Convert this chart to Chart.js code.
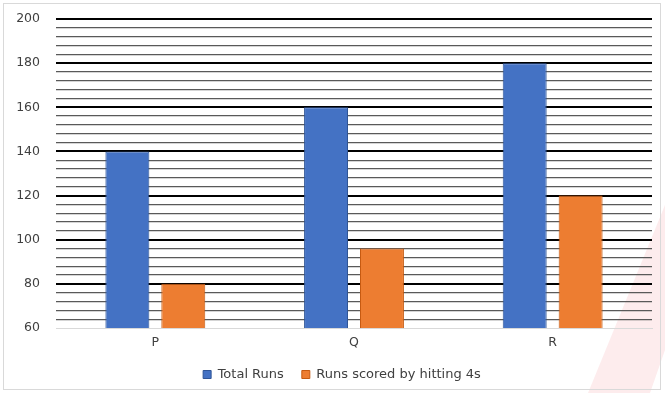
<!DOCTYPE html>
<html>
<head>
<meta charset="utf-8">
<script src="https://cdn.jsdelivr.net/npm/chart.js@4/dist/chart.umd.min.js"></script>
<style>
  html, body { margin: 0; padding: 0; background: #fff; }
  #wrap { width: 665px; height: 393px; position: relative; }
</style>
</head>
<body>
<div id="wrap"><canvas id="c" width="665" height="393"></canvas></div>
<script>
// Batting figures for three players
const players = ['P', 'Q', 'R'];
const totalRuns = [140, 160, 180];
const foursRuns = [80, 96, 120];
const seriesNames = ['Total Runs', 'Runs scored by hitting 4s'];

const FONT = '"DejaVu Sans", "Open Sans", sans-serif';
const TEXT = '#404040';

// Light frame, faint watermark
const backdrop = {
  id: 'backdrop',
  beforeDraw(chart) {
    const ctx = chart.ctx;
    ctx.save();
    ctx.fillStyle = '#ffffff';
    ctx.fillRect(0, 0, chart.width, chart.height);
    ctx.fillStyle = 'rgba(232, 40, 50, 0.09)';
    ctx.beginPath();
    ctx.moveTo(588, 393);
    ctx.lineTo(665, 205);
    ctx.lineTo(665, 393);
    ctx.closePath();
    ctx.fill();
    ctx.fillStyle = '#ffffff';
    ctx.beginPath();
    ctx.moveTo(650, 393);
    ctx.lineTo(665, 350);
    ctx.lineTo(665, 393);
    ctx.closePath();
    ctx.fill();
    ctx.strokeStyle = '#d9d9d9';
    ctx.lineWidth = 1;
    ctx.strokeRect(3.5, 3.5, 657, 386);
    ctx.restore();
  }
};

// Centre the legend under the plot area rather than the whole canvas
const legendNudge = {
  id: 'legendNudge',
  afterLayout(chart) {
    const lg = chart.legend;
    if (!lg) return;
    const shift = 16;
    lg.left += shift;
    lg.right += shift;
  }
};

new Chart(document.getElementById('c'), {
  type: 'bar',
  data: {
    labels: players,
    datasets: [
      {
        label: seriesNames[0],
        data: totalRuns,
        backgroundColor: '#4472C4',
        borderColor: '#2F5597',
        borderWidth: 1,
        barPercentage: 0.786,
        categoryPercentage: 0.563
      },
      {
        label: seriesNames[1],
        data: foursRuns,
        backgroundColor: '#ED7D31',
        borderColor: '#C55A11',
        borderWidth: 1,
        barPercentage: 0.786,
        categoryPercentage: 0.563
      }
    ]
  },
  options: {
    responsive: false,
    animation: false,
    layout: { padding: { left: 0, right: 13, top: 19, bottom: 2 } },
    plugins: {
      tooltip: { enabled: false },
      legend: {
        position: 'bottom',
        labels: {
          font: { family: FONT, size: 13 },
          color: TEXT,
          boxWidth: 8,
          boxHeight: 8,
          padding: 18
        }
      }
    },
    scales: {
      x: {
        grid: { display: false, drawTicks: false },
        border: { display: true, color: '#d9d9d9', width: 1 },
        ticks: { font: { family: FONT, size: 12.5 }, color: TEXT, padding: 7 },
        afterFit(s) { s.height = 22; }
      },
      y: {
        min: 60,
        max: 200,
        border: { display: false },
        afterFit(s) { s.width = 56; },
        ticks: {
          stepSize: 4,
          autoSkip: false,
          padding: 16,
          font: { family: FONT, size: 12.5, lineHeight: 0.2 },
          color: TEXT,
          callback(v) { return v % 20 === 0 ? v : ''; }
        },
        grid: {
          drawTicks: false,
          color(ctx) {
            const v = ctx.tick.value;
            if (v === 60) return '#d9d9d9';
            return v % 20 === 0 ? '#000000' : '#595959';
          },
          lineWidth(ctx) {
            const v = ctx.tick.value;
            if (v === 60) return 1;
            return v % 20 === 0 ? 2 : 1.3;
          }
        }
      }
    }
  },
  plugins: [backdrop, legendNudge]
});
</script>
</body>
</html>
